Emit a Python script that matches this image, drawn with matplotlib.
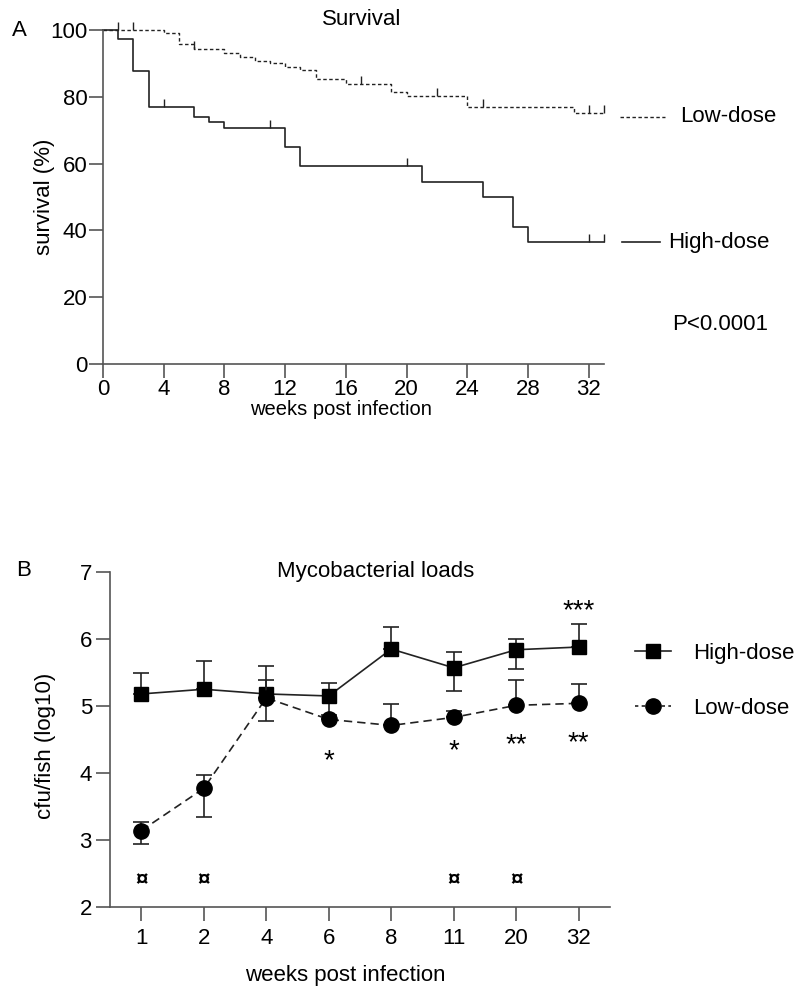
import matplotlib
matplotlib.use('Agg')
import matplotlib.pyplot as plt
from matplotlib.path import Path
from matplotlib.lines import Line2D

plt.rcParams['font.family'] = ['Liberation Sans', 'DejaVu Sans']
plt.rcParams['font.size'] = 16

# --- A: survival (Kaplan-Meier steps) ---
high_t = [0, 1, 2, 3, 6, 7, 8, 12, 13, 21, 25, 27, 28, 33]
high_s = [100, 97.3, 87.7, 76.9, 74.0, 72.5, 70.7, 65.0, 59.3, 54.5, 50.0, 41.0, 36.5, 36.5]
high_cens = [4, 11, 20, 32, 33]

low_t = [0, 4, 5, 6, 8, 9, 10, 11, 12, 13, 14, 16, 19, 20, 24, 31, 33]
low_s = [100, 99.1, 95.8, 94.3, 93.1, 91.9, 90.7, 90.1, 88.9, 88.0, 85.2, 83.7,
         81.4, 80.2, 76.9, 75.1, 75.1]
low_cens = [1, 2, 6, 17, 22, 25, 32, 33]

# --- B: bacterial loads ---
weeks = ['1', '2', '4', '6', '8', '11', '20', '32']
high_load = [5.18, 5.25, 5.18, 5.15, 5.85, 5.57, 5.84, 5.88]
high_up = [0.31, 0.42, 0.42, 0.19, 0.33, 0.24, 0.16, 0.35]
high_dn = [0, 0, 0.40, 0.28, 0, 0.34, 0.29, 0]
low_load = [3.14, 3.77, 5.12, 4.80, 4.71, 4.83, 5.01, 5.04]
low_up = [0.13, 0.20, 0.27, 0, 0.32, 0.10, 0.38, 0.29]
low_dn = [0.20, 0.42, 0, 0, 0, 0, 0, 0]

stars = [(3, 4.18, '*'), (5, 4.33, '*'), (6, 4.41, '**'), (7, 4.45, '**'), (7, 6.41, '***')]
cur_marks = [0, 1, 5, 6]

SPINE = '#555555'
INK = '#222222'


def who_axes(ax):
    for s in ['top', 'right']:
        ax.spines[s].set_visible(False)
    for s in ['left', 'bottom']:
        ax.spines[s].set_color(SPINE)
        ax.spines[s].set_linewidth(1.2)
    ax.tick_params(direction='out', length=10, width=1.2, color=SPINE, labelcolor='black')


# upward tick for censored subjects
cens_mark = Path([(0, 0), (0, 1)], [Path.MOVETO, Path.LINETO])

fig = plt.figure(figsize=(7.99, 9.94), dpi=100)

ax1 = fig.add_axes([103 / 799, 1 - 364 / 994, 501 / 799, 334 / 994])
who_axes(ax1)
ax1.step(high_t, high_s, where='post', color=INK, lw=1.2, clip_on=False)
ax1.step(low_t, low_s, where='post', color=INK, lw=1.0, dashes=(2.5, 1.8), clip_on=False)


def surv_at(t, ts, ss):
    v = ss[0]
    for a, b in zip(ts, ss):
        if a <= t:
            v = b
    return v


ax1.plot(high_cens, [surv_at(t, high_t, high_s) for t in high_cens], ls='none',
         marker=cens_mark, ms=11, mew=1.0, color=INK, clip_on=False)
ax1.plot(low_cens, [surv_at(t, low_t, low_s) for t in low_cens], ls='none',
         marker=cens_mark, ms=11, mew=1.0, color=INK, clip_on=False)

ax1.plot([34.05, 37.0], [low_s[-1] - 1] * 2, color=INK, lw=1.0, dashes=(2.5, 1.8), clip_on=False)
ax1.text(38.0, low_s[-1] - 1, 'Low-dose', va='center', ha='left')
ax1.plot([34.2, 36.7], [high_s[-1]] * 2, color=INK, lw=1.2, clip_on=False)
ax1.text(37.2, high_s[-1], 'High-dose', va='center', ha='left')
ax1.text(37.5, 11.7, 'P<0.0001', va='center', ha='left')

ax1.set_xlim(0, 33)
ax1.set_ylim(0, 100)
ax1.set_xticks(range(0, 33, 4))
ax1.set_yticks(range(0, 101, 20))
ax1.tick_params(axis='y', pad=1)
ax1.tick_params(axis='x', pad=0.5)
ax1.set_ylabel('survival (%)', va='center')
ax1.yaxis.set_label_coords(-0.116, 0.5)
ax1.set_xlabel('weeks post infection', fontsize=14.5, va='center')
ax1.xaxis.set_label_coords(0.475, -0.135)
ax1.text(0.517, 1.03, 'Survival', transform=ax1.transAxes, ha='center', va='center')
fig.text(19 / 799, 1 - 30 / 994, 'A', ha='center', va='center')

# --- panel B ---
ax2 = fig.add_axes([110 / 799, 1 - 907 / 994, 500 / 799, 335 / 994])
who_axes(ax2)
x = list(range(len(weeks)))
ax2.errorbar(x, high_load, yerr=[high_dn, high_up], fmt='-s', color=INK, mfc='black',
             mec='black', ms=10.5, lw=1.2, elinewidth=1.2, capsize=6, capthick=1.2,
             zorder=3)
ax2.errorbar(x, low_load, yerr=[low_dn, low_up], fmt='-o', color=INK, mfc='black',
             mec='black', ms=11, lw=1.2, elinewidth=1.2, capsize=6, capthick=1.2,
             dashes=(5, 3), zorder=4)

for i, y, s in stars:
    ax2.text(i, y, s, ha='center', va='center', fontsize=20)
for i in cur_marks:
    ax2.text(i, 2.39, '\u00a4', ha='center', va='center', fontsize=16, fontweight='bold')

ax2.set_xlim(-0.5, 7.5)
ax2.set_ylim(2, 7)
ax2.set_xticks(x)
ax2.set_xticklabels(weeks)
ax2.set_yticks(range(2, 8))
ax2.tick_params(axis='y', pad=3)
ax2.tick_params(axis='x', pad=5)
ax2.set_ylabel('cfu/fish (log10)', va='center')
ax2.yaxis.set_label_coords(-0.13, 0.48)
ax2.set_xlabel('weeks post infection', va='center')
ax2.xaxis.set_label_coords(0.47, -0.203)
ax2.text(0.532, 1.0, 'Mycobacterial loads', transform=ax2.transAxes, ha='center', va='center')
fig.text(24 / 799, 1 - 570 / 994, 'B', ha='center', va='center')

handles = [
    Line2D([], [], color=INK, lw=1.2, marker='s', ms=10.5, mfc='black', mec='black'),
    Line2D([], [], color=INK, lw=1.2, marker='o', ms=11, mfc='black', mec='black', dashes=(2, 2)),
]
ax2.legend(handles, ['High-dose', 'Low-dose'], frameon=False, loc='center left',
           bbox_to_anchor=(1.05, 0.675), borderpad=0, borderaxespad=0,
           handlelength=1.62, handletextpad=1.0, labelspacing=1.5)

fig.savefig('out.png', dpi=100)
